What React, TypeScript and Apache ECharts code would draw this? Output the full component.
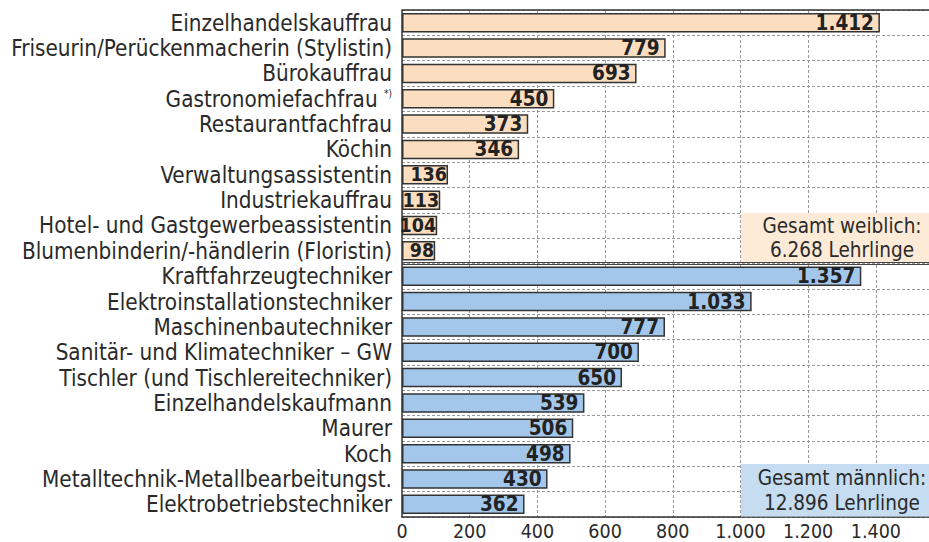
import React, { useEffect, useRef } from "react";
import * as echarts from "echarts";

const femaleJobs = [
  "Einzelhandelskauffrau",
  "Friseurin/Perückenmacherin (Stylistin)",
  "Bürokauffrau",
  "Gastronomiefachfrau",
  "Restaurantfachfrau",
  "Köchin",
  "Verwaltungsassistentin",
  "Industriekauffrau",
  "Hotel- und Gastgewerbeassistentin",
  "Blumenbinderin/-händlerin (Floristin)",
];
const femaleValues = [1412, 779, 693, 450, 373, 346, 136, 113, 104, 98];

const maleJobs = [
  "Kraftfahrzeugtechniker",
  "Elektroinstallationstechniker",
  "Maschinenbautechniker",
  "Sanitär- und Klimatechniker – GW",
  "Tischler (und Tischlereitechniker)",
  "Einzelhandelskaufmann",
  "Maurer",
  "Koch",
  "Metalltechnik-Metallbearbeitungst.",
  "Elektrobetriebstechniker",
];
const maleValues = [1357, 1033, 777, 700, 650, 539, 506, 498, 430, 362];

const xTicks = [0, 200, 400, 600, 800, 1000, 1200, 1400];
const xMax = 1557; // visible end of the (cropped) value axis
const femaleTotal = ["Gesamt weiblich:", "6.268 Lehrlinge"];
const maleTotal = ["Gesamt männlich:", "12.896 Lehrlinge"];

const FEMALE_COLOR = "#FBDDBF";
const MALE_COLOR = "#A3C7EA";
const FONT = "DejaVu Sans Condensed";

const fmt = (n: number) => String(n).replace(/\B(?=(\d{3})+(?!\d))/g, ".");

export default function App() {
  const ref = useRef<HTMLDivElement>(null);
  useEffect(() => {
    if (!ref.current) return;
    const chart = echarts.init(ref.current, undefined, { renderer: "svg" });
    const categories = [...femaleJobs, ...maleJobs];
    const item = (v: number, color: string) => ({
      value: v,
      itemStyle: { color },
      label: v < 150 ? { distance: 1, fontSize: 19.5 } : undefined,
    });
    const data = [
      ...femaleValues.map((v) => item(v, FEMALE_COLOR)),
      ...maleValues.map((v) => item(v, MALE_COLOR)),
    ];
    const textStyle = { fontFamily: FONT, fontSize: 20.5, fill: "#2a2a2a" };
    chart.setOption({
      animation: false,
      textStyle: { fontFamily: FONT },
      grid: { left: 402, right: 0, top: 10, bottom: 25, containLabel: false },
      xAxis: {
        type: "value",
        min: 0,
        max: xMax,
        interval: 200,
        axisLine: { show: true, lineStyle: { color: "#333", width: 1.5 } },
        axisTick: { show: false },
        axisLabel: {
          fontFamily: FONT,
          fontSize: 19.5,
          color: "#2a2a2a",
          margin: 4,
          showMaxLabel: false,
          formatter: (v: number) => (xTicks.includes(v) ? fmt(v) : ""),
        },
        splitLine: {
          show: true,
          showMaxLine: false,
          showMinLine: false,
          lineStyle: { color: "#9a9a9a", type: [3, 2], width: 1 },
        },
      },
      yAxis: {
        type: "category",
        inverse: true,
        data: categories,
        axisLine: { show: true, lineStyle: { color: "#333", width: 1.5 } },
        axisTick: { show: false },
        axisLabel: {
          interval: 0,
          fontFamily: FONT,
          fontSize: 22.3,
          color: "#2a2a2a",
          margin: 10,
          formatter: (v: string) =>
            v === "Gastronomiefachfrau" ? v + " {sup|*)}" : v,
          rich: {
            sup: { fontSize: 10, color: "#2a2a2a", fontFamily: FONT, padding: [0, 0, 10, 0] },
          },
        },
        splitLine: {
          show: true,
          interval: 0,
          lineStyle: { color: "#9a9a9a", type: [3, 2], width: 1 },
        },
      },
      series: [
        {
          type: "bar",
          data,
          barWidth: 19.5,
          itemStyle: { borderColor: "#333", borderWidth: 1.5 },
          label: {
            show: true,
            position: "insideRight",
            distance: 6,
            fontFamily: FONT,
            fontWeight: "bold",
            fontSize: 20.5,
            color: "#222",
            formatter: (p: any) => fmt(p.value),
          },
        },
      ],
      graphic: [
        { type: "line", z: 50, shape: { x1: 402, y1: 10, x2: 929, y2: 10 }, style: { stroke: "#333", lineWidth: 1.5 } },
        { type: "line", z: 50, shape: { x1: 402, y1: 262.5, x2: 929, y2: 262.5 }, style: { stroke: "#444", lineWidth: 1 } },
        { type: "line", z: 50, shape: { x1: 402, y1: 264.5, x2: 929, y2: 264.5 }, style: { stroke: "#444", lineWidth: 1 } },
        { type: "rect", z: 40, shape: { x: 741, y: 213, width: 190, height: 49 }, style: { fill: "#FDEAD7" } },
        { type: "text", z: 60, style: { ...textStyle, text: femaleTotal[0], x: 842, y: 226, align: "center", verticalAlign: "middle" } },
        { type: "text", z: 60, style: { ...textStyle, text: femaleTotal[1], x: 842, y: 250, align: "center", verticalAlign: "middle" } },
        { type: "rect", z: 40, shape: { x: 741, y: 464, width: 190, height: 52.5 }, style: { fill: "#C5DCF1" } },
        { type: "text", z: 60, style: { ...textStyle, text: maleTotal[0], x: 842, y: 478, align: "center", verticalAlign: "middle" } },
        { type: "text", z: 60, style: { ...textStyle, text: maleTotal[1], x: 842, y: 503, align: "center", verticalAlign: "middle" } },
      ],
    });
    return () => chart.dispose();
  }, []);
  return (
    <div
      ref={ref}
      style={{ position: "absolute", left: 0, top: 0, width: 929, height: 542, background: "#fff" }}
    />
  );
}
